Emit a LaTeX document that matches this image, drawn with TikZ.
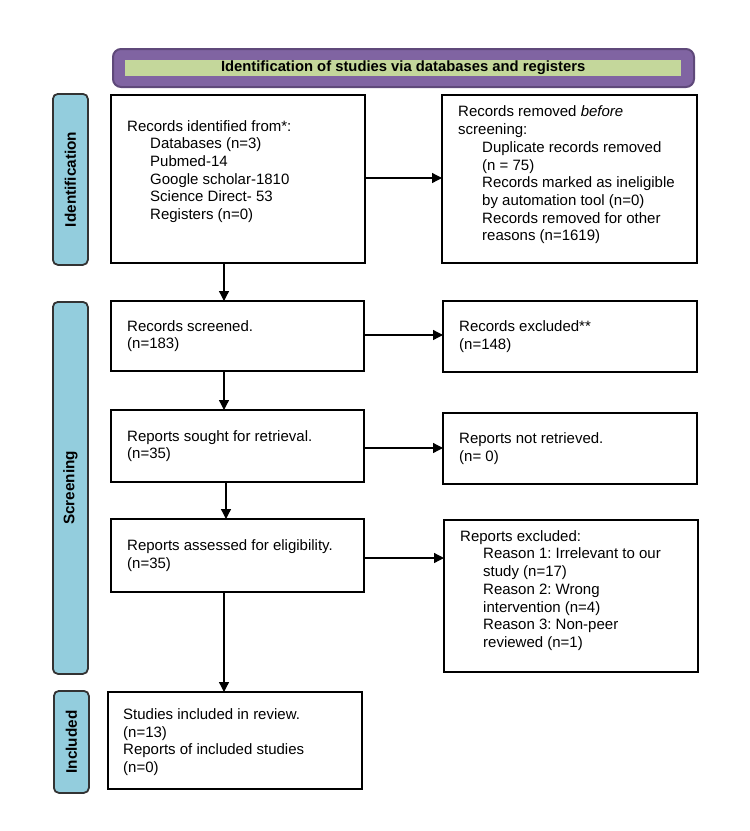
\documentclass[tikz,border=0pt]{standalone}
\usepackage{fontspec}
\setmainfont{Liberation Sans}
\usetikzlibrary{arrows.meta,calc}
\frenchspacing
\definecolor{bannerpurple}{HTML}{8064A2}
\definecolor{bannerdark}{HTML}{5F497A}
\definecolor{bannergreen}{HTML}{C4D79B}
\definecolor{sideblue}{HTML}{93CDDD}
\definecolor{sidedark}{HTML}{333333}
\tikzset{
  every node/.style={font=\fontsize{15}{17.7}\selectfont},
  flowbox/.style={draw=black, line width=2.7pt, fill=white, anchor=north west, inner sep=0pt, outer sep=0pt},
  boxtext/.style={anchor=west, align=left, inner sep=0pt, font=\fontsize{15}{17.7}\selectfont},
  sidelabel/.style={draw=sidedark, fill=sideblue, line width=1.8pt, rounded corners=5pt, anchor=north west, inner sep=0pt},
  sidetext/.style={rotate=90, font=\bfseries\fontsize{15.3}{17}\selectfont, inner sep=0pt},
  flowarrow/.style={line width=1.3pt, -{Triangle[length=10pt,width=10pt]}}
}
\begin{document}
\begin{tikzpicture}[x=1pt,y=-1pt]
\useasboundingbox (0,0) rectangle (750,831);
% banner
\node[draw=bannerdark, fill=bannerpurple, line width=2pt, rounded corners=8pt, anchor=north west, inner sep=0pt, minimum width=581pt, minimum height=38pt] (banner) at (112,48) {};
\node[fill=bannergreen, anchor=north west, inner sep=0pt, minimum width=556pt, minimum height=16pt] (bannerfill) at (125,60) {};
\node[inner sep=0pt, font=\bfseries\fontsize{14.8}{16}\selectfont] (bannertxt) at ([yshift=0.5pt]bannerfill.center) {Identification of studies via databases and registers};
% side labels
\node[sidelabel, minimum width=35pt, minimum height=171pt] (sideid) at (52,93) {};
\node[sidetext] (sideidtxt) at (sideid.center) {Identification};
\node[sidelabel, minimum width=35pt, minimum height=372pt] (sidescr) at (52,301) {};
\node[sidetext] (sidescrtxt) at (sidescr.center) {Screening};
\node[sidelabel, minimum width=35pt, minimum height=102pt] (sideinc) at (53,690) {};
\node[sidetext] (sideinctxt) at (sideinc.center) {Included};
% boxes
\node[flowbox, minimum width=254pt, minimum height=168pt] (b1) at (111,95) {};
\node[boxtext] (t1) at ([xshift=16pt,yshift=7.5pt]b1.west) {Records identified from*:\\
\hspace*{23pt}Databases (n=3)\\
\hspace*{23pt}Pubmed-14\\
\hspace*{23pt}Google scholar-1810\\
\hspace*{23pt}Science Direct- 53\\
\hspace*{23pt}Registers (n=0)};
\node[flowbox, minimum width=255pt, minimum height=168pt] (b2) at (442,95) {};
\node[boxtext] (t2) at ([xshift=16pt,yshift=4pt]b2.west) {Records removed \textit{before}\\
screening:\\
\hspace*{24pt}Duplicate records removed\\
\hspace*{24pt}(n = 75)\\
\hspace*{24pt}Records marked as ineligible\\
\hspace*{24pt}by automation tool (n=0)\\
\hspace*{24pt}Records removed for other\\
\hspace*{24pt}reasons (n=1619)};
\node[flowbox, minimum width=253pt, minimum height=70pt] (b3) at (111,301) {};
\node[boxtext] (t3) at ([xshift=16pt]b3.west) {Records screened.\\(n=183)};
\node[flowbox, minimum width=254pt, minimum height=71pt] (b4) at (443,301) {};
\node[boxtext] (t4) at ([xshift=16pt]b4.west) {Records excluded**\\(n=148)};
\node[flowbox, minimum width=253pt, minimum height=72pt] (b5) at (111,410) {};
\node[boxtext] (t5) at ([xshift=16pt]b5.west) {Reports sought for retrieval.\\(n=35)};
\node[flowbox, minimum width=254pt, minimum height=71pt] (b6) at (443,413) {};
\node[boxtext] (t6) at ([xshift=16pt]b6.west) {Reports not retrieved.\\(n= 0)};
\node[flowbox, minimum width=253pt, minimum height=73pt] (b7) at (111,519) {};
\node[boxtext] (t7) at ([xshift=16pt]b7.west) {Reports assessed for eligibility.\\(n=35)};
\node[flowbox, minimum width=254pt, minimum height=152pt] (b8) at (444,520) {};
\node[boxtext] (t8) at ([xshift=16pt,yshift=5.5pt]b8.west) {Reports excluded:\\
\hspace*{23pt}Reason 1: Irrelevant to our\\
\hspace*{23pt}study (n=17)\\
\hspace*{23pt}Reason 2: Wrong\\
\hspace*{23pt}intervention (n=4)\\
\hspace*{23pt}Reason 3: Non-peer\\
\hspace*{23pt}reviewed (n=1)};
\node[flowbox, minimum width=254pt, minimum height=97pt] (b9) at (108,692) {};
\node[boxtext] (t9) at ([xshift=15pt,yshift=-1.5pt]b9.west) {Studies included in review.\\(n=13)\\Reports of included studies\\(n=0)};
% arrows
\coordinate (ax) at (224,0);
\draw[flowarrow] ([yshift=1pt]b1.east) -- ([yshift=1pt]b1.east -| b2.west);
\draw[flowarrow] ([yshift=1pt]b3.east) -- ([yshift=1pt]b3.east -| b4.west);
\draw[flowarrow] ([yshift=-2pt]b5.east) -- ([yshift=-2pt]b5.east -| b6.west);
\draw[flowarrow] ([yshift=-2.5pt]b7.east) -- ([yshift=-2.5pt]b7.east -| b8.west);
\draw[flowarrow] (b1.south -| ax) -- (b3.north -| ax);
\draw[flowarrow] (b3.south -| ax) -- (b5.north -| ax);
\draw[flowarrow] ([xshift=2pt]b5.south -| ax) -- ([xshift=2pt]b7.north -| ax);
\draw[flowarrow] (b7.south -| ax) -- (b9.north -| ax);
\end{tikzpicture}
\end{document}
